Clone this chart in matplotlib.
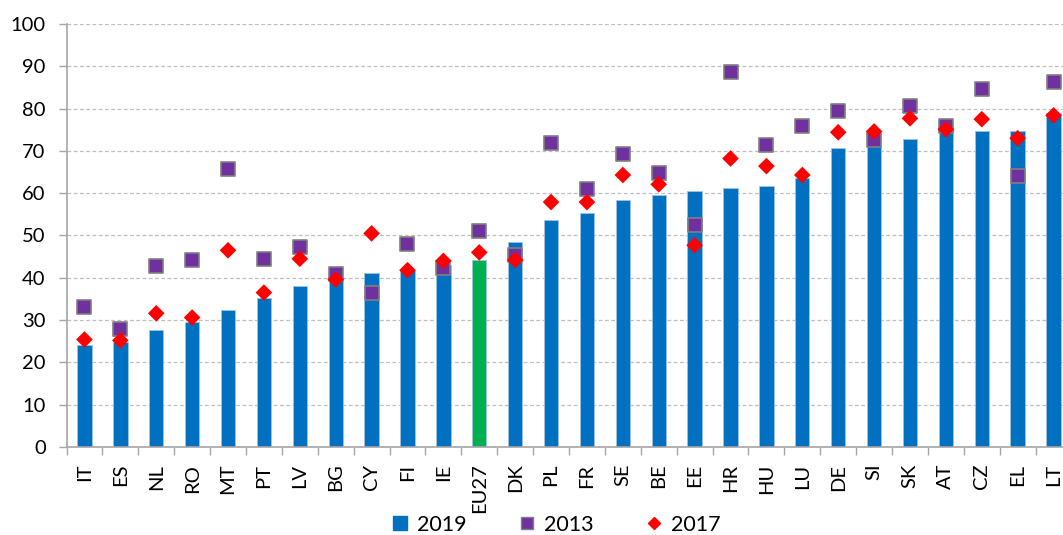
import matplotlib
matplotlib.use("Agg")
import matplotlib.pyplot as plt
from matplotlib.lines import Line2D

countries = ["IT", "ES", "NL", "RO", "MT", "PT", "LV", "BG", "CY", "FI", "IE", "EU27", "DK", "PL",
             "FR", "SE", "BE", "EE", "HR", "HU", "LU", "DE", "SI", "SK", "AT", "CZ", "EL", "LT"]
v2019 = [24.1, 24.8, 27.6, 29.6, 32.5, 35.3, 38.0, 39.4, 41.2, 41.8, 43.0, 44.2, 48.4, 53.6,
         55.4, 58.5, 59.5, 60.6, 61.3, 61.8, 63.5, 70.7, 71.1, 72.7, 75.5, 74.7, 74.7, 79.0]
v2013 = [33.1, 27.8, 42.7, 44.3, 65.8, 44.5, 47.2, 40.9, 36.3, 48.0, 42.2, 51.0, 45.4, 71.9,
         61.0, 69.3, 64.8, 52.4, 88.6, 71.5, 75.9, 79.4, 72.6, 80.7, 75.8, 84.6, 64.0, 86.4]
v2017 = [25.4, 25.2, 31.6, 30.6, 46.5, 36.5, 44.5, 39.6, 50.5, 41.8, 44.0, 46.0, 44.2, 57.9,
         57.9, 64.3, 62.1, 47.7, 68.2, 66.4, 64.3, 74.4, 74.6, 77.7, 75.1, 77.5, 73.0, 78.4]
yticks = list(range(0, 101, 10))

BLUE = "#0070C0"
GREEN = "#00B050"
PURPLE = "#7030A0"
RED = "#FF0000"

plt.rcParams["font.family"] = ["Lato", "DejaVu Sans"]

W, H = 1063, 535
fig = plt.figure(figsize=(W / 100, H / 100), dpi=100)
ax = fig.add_axes([66.5 / W, 88 / H, 1005 / W, 423 / H])

x = list(range(len(countries)))
bar_colors = [GREEN if c == "EU27" else BLUE for c in countries]
ax.bar(x, v2019, width=0.4, color=bar_colors, edgecolor="#9DC3E6", linewidth=0.6, zorder=2)
ax.scatter(x, v2013, marker="s", s=105, color=PURPLE, edgecolors="#808080", linewidths=1.2, zorder=3)
ax.scatter(x, v2017, marker="D", s=72, color=RED, edgecolors="none", zorder=4)

ax.set_xlim(-0.5, len(countries) - 0.5)
ax.set_ylim(0, 100)
ax.set_yticks(yticks)
ax.set_yticklabels([str(t) for t in yticks], fontsize=14.5)
ax.yaxis.grid(True, linestyle=(0, (3, 2)), color="#BFBFBF", linewidth=0.9, zorder=0)
ax.set_axisbelow(True)

ax.set_xticks(x)
ax.set_xticklabels(countries, rotation=90, fontsize=14.5)
ax.tick_params(axis="x", length=0, pad=12)
ax.set_xticks([i - 0.5 for i in range(len(countries) + 1)], minor=True)
ax.tick_params(axis="x", which="minor", length=6, color="#A6A6A6", width=1)
ax.tick_params(axis="y", length=6, color="#A6A6A6", width=1, pad=9)

for side in ("top", "right"):
    ax.spines[side].set_visible(False)
for side in ("left", "bottom"):
    ax.spines[side].set_color("#A6A6A6")
    ax.spines[side].set_linewidth(1.2)

handles = [
    Line2D([], [], marker="s", linestyle="none", markersize=9.5, markerfacecolor=BLUE, markeredgecolor=BLUE),
    Line2D([], [], marker="s", linestyle="none", markersize=8.5, markerfacecolor=PURPLE, markeredgecolor="#808080"),
    Line2D([], [], marker="D", linestyle="none", markersize=6.5, markerfacecolor=RED, markeredgecolor=RED),
]
fig.legend(handles, ["2019", "2013", "2017"], loc="center", bbox_to_anchor=(0.522, 1 - 525 / H),
           ncol=3, frameon=False, fontsize=15.5, handletextpad=0.3, columnspacing=2.3, handlelength=1.0,
           borderpad=0.1)

fig.savefig("out.png", dpi=100)
